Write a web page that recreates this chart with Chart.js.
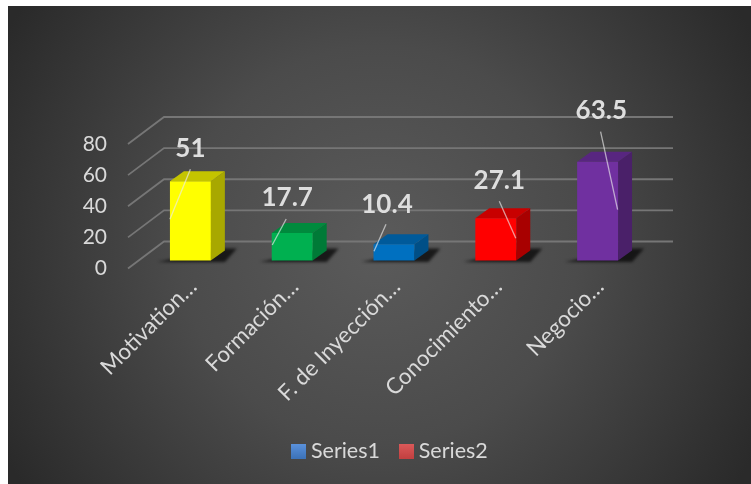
<!DOCTYPE html>
<html>
<head>
<meta charset="utf-8">
<style>html,body{margin:0;padding:0;background:#fff;overflow:hidden}canvas{display:block}</style>
<script src="https://cdn.jsdelivr.net/npm/chart.js@4/dist/chart.umd.min.js"></script>
</head>
<body>
<canvas id="c" width="751" height="484"></canvas>
<script>
const categories = ['Motivation…','Formación…','F. de Inyección…','Conocimiento…','Negocio…'];
const series1Values = [51,17.7,10.4,27.1,63.5];
const series2Values = [];
const yTicks = [0,20,40,60,80];
const seriesNames = ['Series1','Series2'];
const legendColors = [['#5b92dc','#3c72b8'],['#dc5a5a','#c24040']];
const frontColors = ['#ffff00','#00b050','#0070c0','#ff0000','#7030a0'];
const sideColors = ['#a8a800','#007a37','#004f87','#a80000','#4a2069'];
const topColors = ['#c4c400','#008a3d','#005a9a','#c80000','#582680'];
// label centre [dx,dy] relative to bar top-centre
const labelOffsets = [[0,-33],[-5,-35],[-7,-40],[3.5,-38],[3.7,-51]];
// leader line [dx1,dy1,dx2,dy2] relative to bar top-centre
const leaderOffsets = [[0,-12,-20.5,38],[-6,-14,-20,12],[-8,-20,-20,7],[3.5,-17,20,20],[3,-30,20,48]];

const FONT = 'Lato, Carlito, sans-serif';
const TEXT = '#d9d9d9';
const BAR_DX = -2.5, BAR_DY = -8;
const DEPTH_X = 14, DEPTH_Y = 10;
const WALL_DX = 36, WALL_DY = 27;

function legendSwatch(stops) {
  const cv = document.createElement('canvas');
  cv.width = 15; cv.height = 15;
  const c = cv.getContext('2d');
  const g = c.createLinearGradient(0, 0, 0, 15);
  g.addColorStop(0, stops[0]);
  g.addColorStop(1, stops[1]);
  c.fillStyle = g;
  c.fillRect(0, 0, 15, 15);
  return cv;
}

const scene = {
  id: 'scene',
  afterLayout(chart) {
    chart.legend.left = 34;
    chart.legend.right = 751;
  },
  beforeDraw(chart) {
    const {ctx} = chart;
    const g = ctx.createRadialGradient(379, 245, 10, 379, 245, 430);
    g.addColorStop(0, '#5a5a5a');
    g.addColorStop(0.45, '#4b4b4b');
    g.addColorStop(1, '#2a2a2a');
    ctx.save();
    ctx.fillStyle = g;
    ctx.fillRect(8, 6, 743, 478);
    ctx.restore();
  },
  beforeDatasetsDraw(chart) {
    const {ctx, scales:{y}, chartArea:a} = chart;
    const fx = a.left - 14, bx = fx + WALL_DX, rx = a.right + 22;
    ctx.save();
    ctx.strokeStyle = '#767676';
    ctx.lineWidth = 1.8;
    yTicks.forEach(v => {
      const p = y.getPixelForValue(v);
      ctx.beginPath();
      ctx.moveTo(fx, p);
      ctx.lineTo(bx, p - WALL_DY);
      ctx.lineTo(rx, p - WALL_DY);
      ctx.stroke();
    });
    ctx.restore();
    const els = chart.getDatasetMeta(0).data;
    ctx.save();
    ctx.translate(BAR_DX, BAR_DY);
    els.forEach((el, i) => {
      const l = el.x - el.width/2, r = el.x + el.width/2, t = el.y, b = el.base;
      ctx.save();
      ctx.filter = 'blur(1.5px)';
      ctx.fillStyle = 'rgba(10,10,10,0.8)';
      ctx.beginPath();
      ctx.moveTo(l - 12, b + 1.5);
      ctx.lineTo(r + 14, b + 1.5);
      ctx.lineTo(r + 26, b - 12);
      ctx.lineTo(r + 10, b - 12);
      ctx.closePath();
      ctx.fill();
      ctx.restore();
      ctx.fillStyle = sideColors[i];
      ctx.beginPath();
      ctx.moveTo(r, t); ctx.lineTo(r + DEPTH_X, t - DEPTH_Y);
      ctx.lineTo(r + DEPTH_X, b - DEPTH_Y); ctx.lineTo(r, b);
      ctx.closePath(); ctx.fill();
      ctx.fillStyle = topColors[i];
      ctx.beginPath();
      ctx.moveTo(l, t); ctx.lineTo(l + DEPTH_X, t - DEPTH_Y);
      ctx.lineTo(r + DEPTH_X, t - DEPTH_Y); ctx.lineTo(r, t);
      ctx.closePath(); ctx.fill();
    });
    ctx.restore();
  },
  beforeDatasetDraw(chart) {
    chart.ctx.save();
    chart.ctx.translate(BAR_DX, BAR_DY);
  },
  afterDatasetDraw(chart) {
    chart.ctx.restore();
  },
  afterDatasetsDraw(chart) {
    const {ctx} = chart;
    const els = chart.getDatasetMeta(0).data;
    ctx.save();
    ctx.translate(BAR_DX, BAR_DY);
    els.forEach((el, i) => {
      const [a, b, c, d] = leaderOffsets[i];
      ctx.strokeStyle = 'rgba(235,235,235,0.65)';
      ctx.lineWidth = 1.3;
      ctx.beginPath();
      ctx.moveTo(el.x + a, el.y + b);
      ctx.lineTo(el.x + c, el.y + d);
      ctx.stroke();
      const [dx, dy] = labelOffsets[i];
      ctx.fillStyle = '#dedede';
      ctx.font = 'bold 26px ' + FONT;
      ctx.textAlign = 'center';
      ctx.textBaseline = 'middle';
      ctx.fillText(String(series1Values[i]), el.x + dx, el.y + dy);
    });
    ctx.restore();
  }
};

new Chart(document.getElementById('c'), {
  type: 'bar',
  plugins: [scene],
  data: {
    labels: categories,
    datasets: [
      {label: seriesNames[0], data: series1Values, backgroundColor: frontColors, clip: false, grouped: false,
       barPercentage: 0.402, categoryPercentage: 1},
      {label: seriesNames[1], data: series2Values, backgroundColor: legendColors[1][0], clip: false, grouped: false,
       barPercentage: 0.402, categoryPercentage: 1}
    ]
  },
  options: {
    responsive: false,
    animation: false,
    layout: {padding: {top: 144, left: 42, right: 100, bottom: 12}},
    plugins: {
      tooltip: {enabled: false},
      legend: {
        position: 'bottom',
        labels: {
          usePointStyle: true, pointStyleWidth: 3, boxHeight: 15, padding: 25,
          color: TEXT,
          font: {family: FONT, size: 21.5},
          generateLabels: () => seriesNames.map((n, i) => ({
            text: n, pointStyle: legendSwatch(legendColors[i]), fillStyle: legendColors[i][0],
            strokeStyle: 'rgba(0,0,0,0)', lineWidth: 0, hidden: false, datasetIndex: i, fontColor: TEXT
          }))
        }
      }
    },
    scales: {
      x: {
        afterFit(s) { s.height = 147; },
        grid: {display: false},
        border: {display: false},
        ticks: {
          color: TEXT, font: {family: FONT, size: 22.4},
          minRotation: 45, maxRotation: 45, autoSkip: false, padding: -3
        }
      },
      y: {
        min: 0, max: 80,
        afterFit(s) { s.width = 100; },
        grid: {display: false, drawTicks: false},
        border: {display: false},
        afterBuildTicks(s) { s.ticks = yTicks.map(v => ({value: v})); },
        ticks: {
          color: TEXT, font: {family: FONT, size: 21},
          padding: 35
        }
      }
    }
  }
});
</script>
</body>
</html>
